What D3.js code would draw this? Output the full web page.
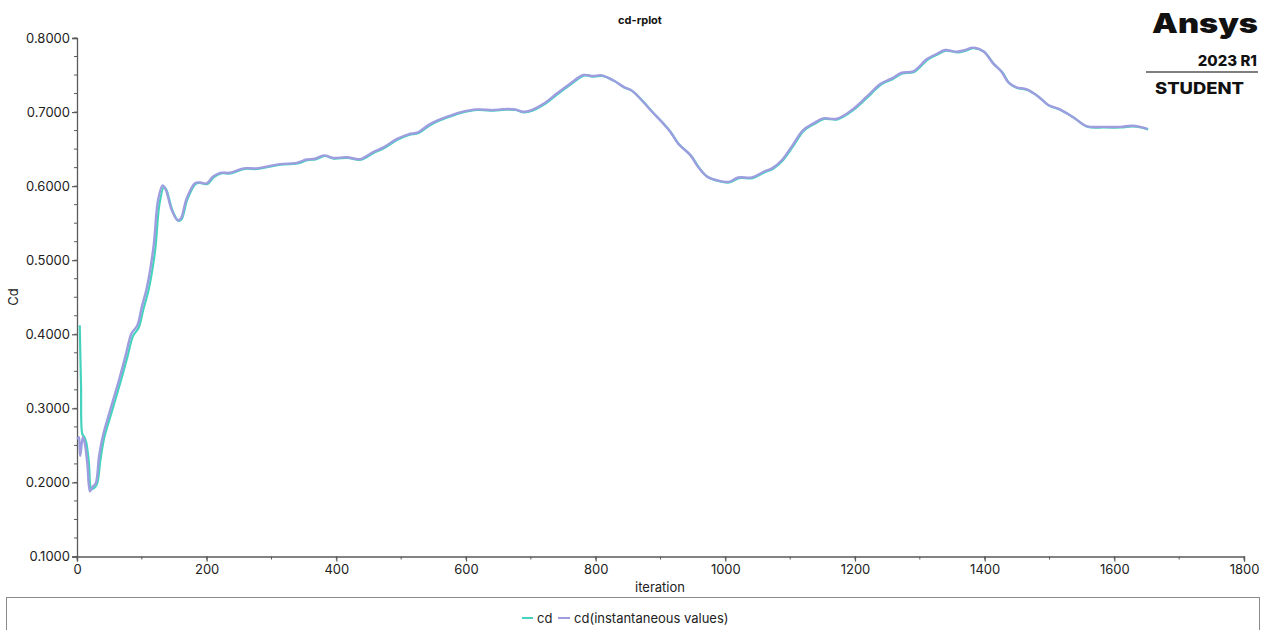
<!DOCTYPE html>
<html>
<head>
<meta charset="utf-8">
<script src="https://cdn.jsdelivr.net/npm/d3@7"></script>
<style>
  html, body { margin: 0; padding: 0; background: #fff; }
  svg { display: block; font-family: Inter, "Open Sans", sans-serif; }
</style>
</head>
<body>
<svg id="chart" width="1266" height="630"></svg>
<script>
// Instantaneous drag coefficient per iteration
const instIter = [1, 3, 5, 9, 12, 16, 20, 24, 29, 34, 40, 51, 66, 76, 84, 93, 100, 108, 118, 125, 132, 137, 146, 155, 160, 169, 182, 190, 200, 210, 221, 236, 257, 277, 313, 339, 354, 367, 381, 395, 416, 437, 457, 472, 493, 511, 526, 542, 557, 575, 591, 617, 642, 658, 676, 688, 701, 722, 740, 760, 781, 796, 809, 827, 843, 856, 871, 887, 904, 915, 927, 946, 958, 971, 987, 1005, 1020, 1041, 1059, 1072, 1087, 1102, 1120, 1136, 1151, 1172, 1195, 1218, 1239, 1257, 1272, 1290, 1311, 1326, 1339, 1357, 1370, 1382, 1398, 1413, 1426, 1437, 1449, 1465, 1483, 1498, 1516, 1537, 1557, 1583, 1609, 1627, 1640, 1651];
const instValues = [0.258, 0.261, 0.236, 0.261, 0.253, 0.225, 0.188, 0.194, 0.199, 0.235, 0.263, 0.297, 0.342, 0.375, 0.401, 0.412, 0.437, 0.464, 0.518, 0.581, 0.601, 0.595, 0.568, 0.554, 0.556, 0.583, 0.604, 0.605, 0.6036, 0.613, 0.618, 0.618, 0.624, 0.624, 0.6297, 0.6315, 0.636, 0.637, 0.6415, 0.638, 0.639, 0.6365, 0.646, 0.652, 0.6635, 0.670, 0.6726, 0.6824, 0.689, 0.695, 0.6996, 0.7036, 0.7027, 0.704, 0.7036, 0.7004, 0.7027, 0.7126, 0.725, 0.738, 0.750, 0.7486, 0.7496, 0.743, 0.734, 0.7288, 0.716, 0.7004, 0.6847, 0.6734, 0.6577, 0.6419, 0.626, 0.6135, 0.608, 0.6058, 0.6117, 0.6117, 0.6194, 0.624, 0.635, 0.653, 0.6757, 0.6847, 0.6915, 0.691, 0.7027, 0.7207, 0.738, 0.7455, 0.7531, 0.755, 0.7716, 0.7784, 0.7838, 0.7815, 0.7838, 0.787, 0.782, 0.7658, 0.7545, 0.7396, 0.7334, 0.7306, 0.7207, 0.7095, 0.7036, 0.6928, 0.681, 0.680, 0.680, 0.6815, 0.680, 0.6774];

// Reported cd over the first iterations (later iterations coincide with the instantaneous values)
const cdHeadIter = [3, 5, 7, 10, 13, 17, 21, 25, 30, 35, 41, 52, 67, 77, 85, 94, 101, 109, 119, 126, 133];
const cdHeadValues = [0.413, 0.33, 0.266, 0.262, 0.255, 0.228, 0.192, 0.193, 0.200, 0.232, 0.262, 0.295, 0.340, 0.372, 0.398, 0.410, 0.434, 0.460, 0.512, 0.577, 0.600];

const xTicks = [0, 200, 400, 600, 800, 1000, 1200, 1400, 1600, 1800];
const yTicks = [0.1, 0.2, 0.3, 0.4, 0.5, 0.6, 0.7, 0.8];
const seriesNames = ["cd", "cd(instantaneous values)"];
const seriesColors = ["#45d3be", "#9d9ddf"];

const instData = instIter.map((it, i) => ({ it, v: instValues[i] }));
const cdData = cdHeadIter.map((it, i) => ({ it, v: cdHeadValues[i] }))
  .concat(instData.filter(d => d.it > cdHeadIter[cdHeadIter.length - 1]));

const svg = d3.select("#chart");
const x = d3.scaleLinear().domain([0, 1800]).range([77, 1244]);
const y = d3.scaleLinear().domain([0.1, 0.8]).range([556.5, 38]);

const axisColor = "#5a5a5a";
const textColor = "#222";

// Minor ticks
const yMinor = d3.range(0.1, 0.8001, 0.025);
svg.append("g").selectAll("line").data(yMinor).join("line")
  .attr("x1", 74).attr("x2", 77)
  .attr("y1", d => y(d)).attr("y2", d => y(d))
  .attr("stroke", axisColor).attr("stroke-width", 1);
const xMinor = d3.range(0, 1801, 100);
svg.append("g").selectAll("line").data(xMinor).join("line")
  .attr("x1", d => x(d)).attr("x2", d => x(d))
  .attr("y1", 556.5).attr("y2", 559.5)
  .attr("stroke", axisColor).attr("stroke-width", 1);

// Y axis
const yAxis = svg.append("g").attr("transform", "translate(77,0)")
  .call(d3.axisLeft(y).tickValues(yTicks).tickFormat(d3.format(".4f")).tickSize(5).tickPadding(2));
// X axis
const xAxis = svg.append("g").attr("transform", "translate(0,556.5)")
  .call(d3.axisBottom(x).tickValues(xTicks).tickFormat(d3.format("d")).tickSize(5).tickPadding(3));

[yAxis, xAxis].forEach(a => {
  a.select(".domain").attr("stroke", axisColor).attr("stroke-width", 1.3);
  a.selectAll(".tick line").attr("stroke", axisColor).attr("stroke-width", 1.2);
  a.selectAll(".tick text").attr("fill", textColor).style("font-size", "13px").style("font-family", "Inter, sans-serif");
});

// Titles
svg.append("text").attr("x", 640).attr("y", 24).attr("text-anchor", "middle")
  .style("font-size", "11px").style("font-weight", "700").attr("fill", "#111").text("cd-rplot");
svg.append("text").attr("x", 660).attr("y", 592).attr("text-anchor", "middle")
  .style("font-size", "13px").attr("fill", textColor).text("iteration");
svg.append("text").attr("transform", "translate(18,297) rotate(-90)").attr("text-anchor", "middle")
  .style("font-size", "13px").attr("fill", textColor).text("Cd");

// Curves
const line = d3.line().x(d => x(d.it)).y(d => y(d.v)).curve(d3.curveCatmullRom.alpha(0.5));
svg.append("path").datum(cdData).attr("d", line)
  .attr("fill", "none").attr("stroke", seriesColors[0]).attr("stroke-width", 2.2)
  .attr("transform", "translate(0.8,0.6)");
svg.append("path").datum(instData).attr("d", line)
  .attr("fill", "none").attr("stroke", seriesColors[1]).attr("stroke-width", 2.4);

// Legend box
svg.append("rect").attr("x", 6.5).attr("y", 597.5).attr("width", 1253).attr("height", 40)
  .attr("fill", "none").attr("stroke", "#8a8a8a").attr("stroke-width", 1);
const legendItems = [{ x: 522, w: 11 }, { x: 558, w: 12 }];
legendItems.forEach((it, i) => {
  svg.append("line").attr("x1", it.x).attr("x2", it.x + it.w).attr("y1", 618).attr("y2", 618)
    .attr("stroke", seriesColors[i]).attr("stroke-width", 2);
  svg.append("text").attr("x", it.x + it.w + 4).attr("y", 622.5)
    .style("font-size", "13px").attr("fill", textColor).text(seriesNames[i]);
});

// Logo
const logo = svg.append("g").attr("fill", "#111");
logo.append("text").attr("x", 1152).attr("y", 33).attr("textLength", 106).attr("lengthAdjust", "spacingAndGlyphs")
  .style("font-size", "27px").style("font-weight", "900").style("font-family", "Inter, sans-serif").text("Ansys");
logo.append("text").attr("x", 1257).attr("y", 66).attr("text-anchor", "end")
  .style("font-size", "15px").style("font-weight", "800").style("font-family", "Inter, sans-serif").text("2023 R1");
logo.append("line").attr("x1", 1146).attr("x2", 1258).attr("y1", 72).attr("y2", 72)
  .attr("stroke", "#555").attr("stroke-width", 1.3);
logo.append("text").attr("x", 1155).attr("y", 94).attr("textLength", 89).attr("lengthAdjust", "spacingAndGlyphs")
  .style("font-size", "16px").style("font-weight", "800").style("font-family", "Inter, sans-serif").text("STUDENT");
</script>
</body>
</html>
